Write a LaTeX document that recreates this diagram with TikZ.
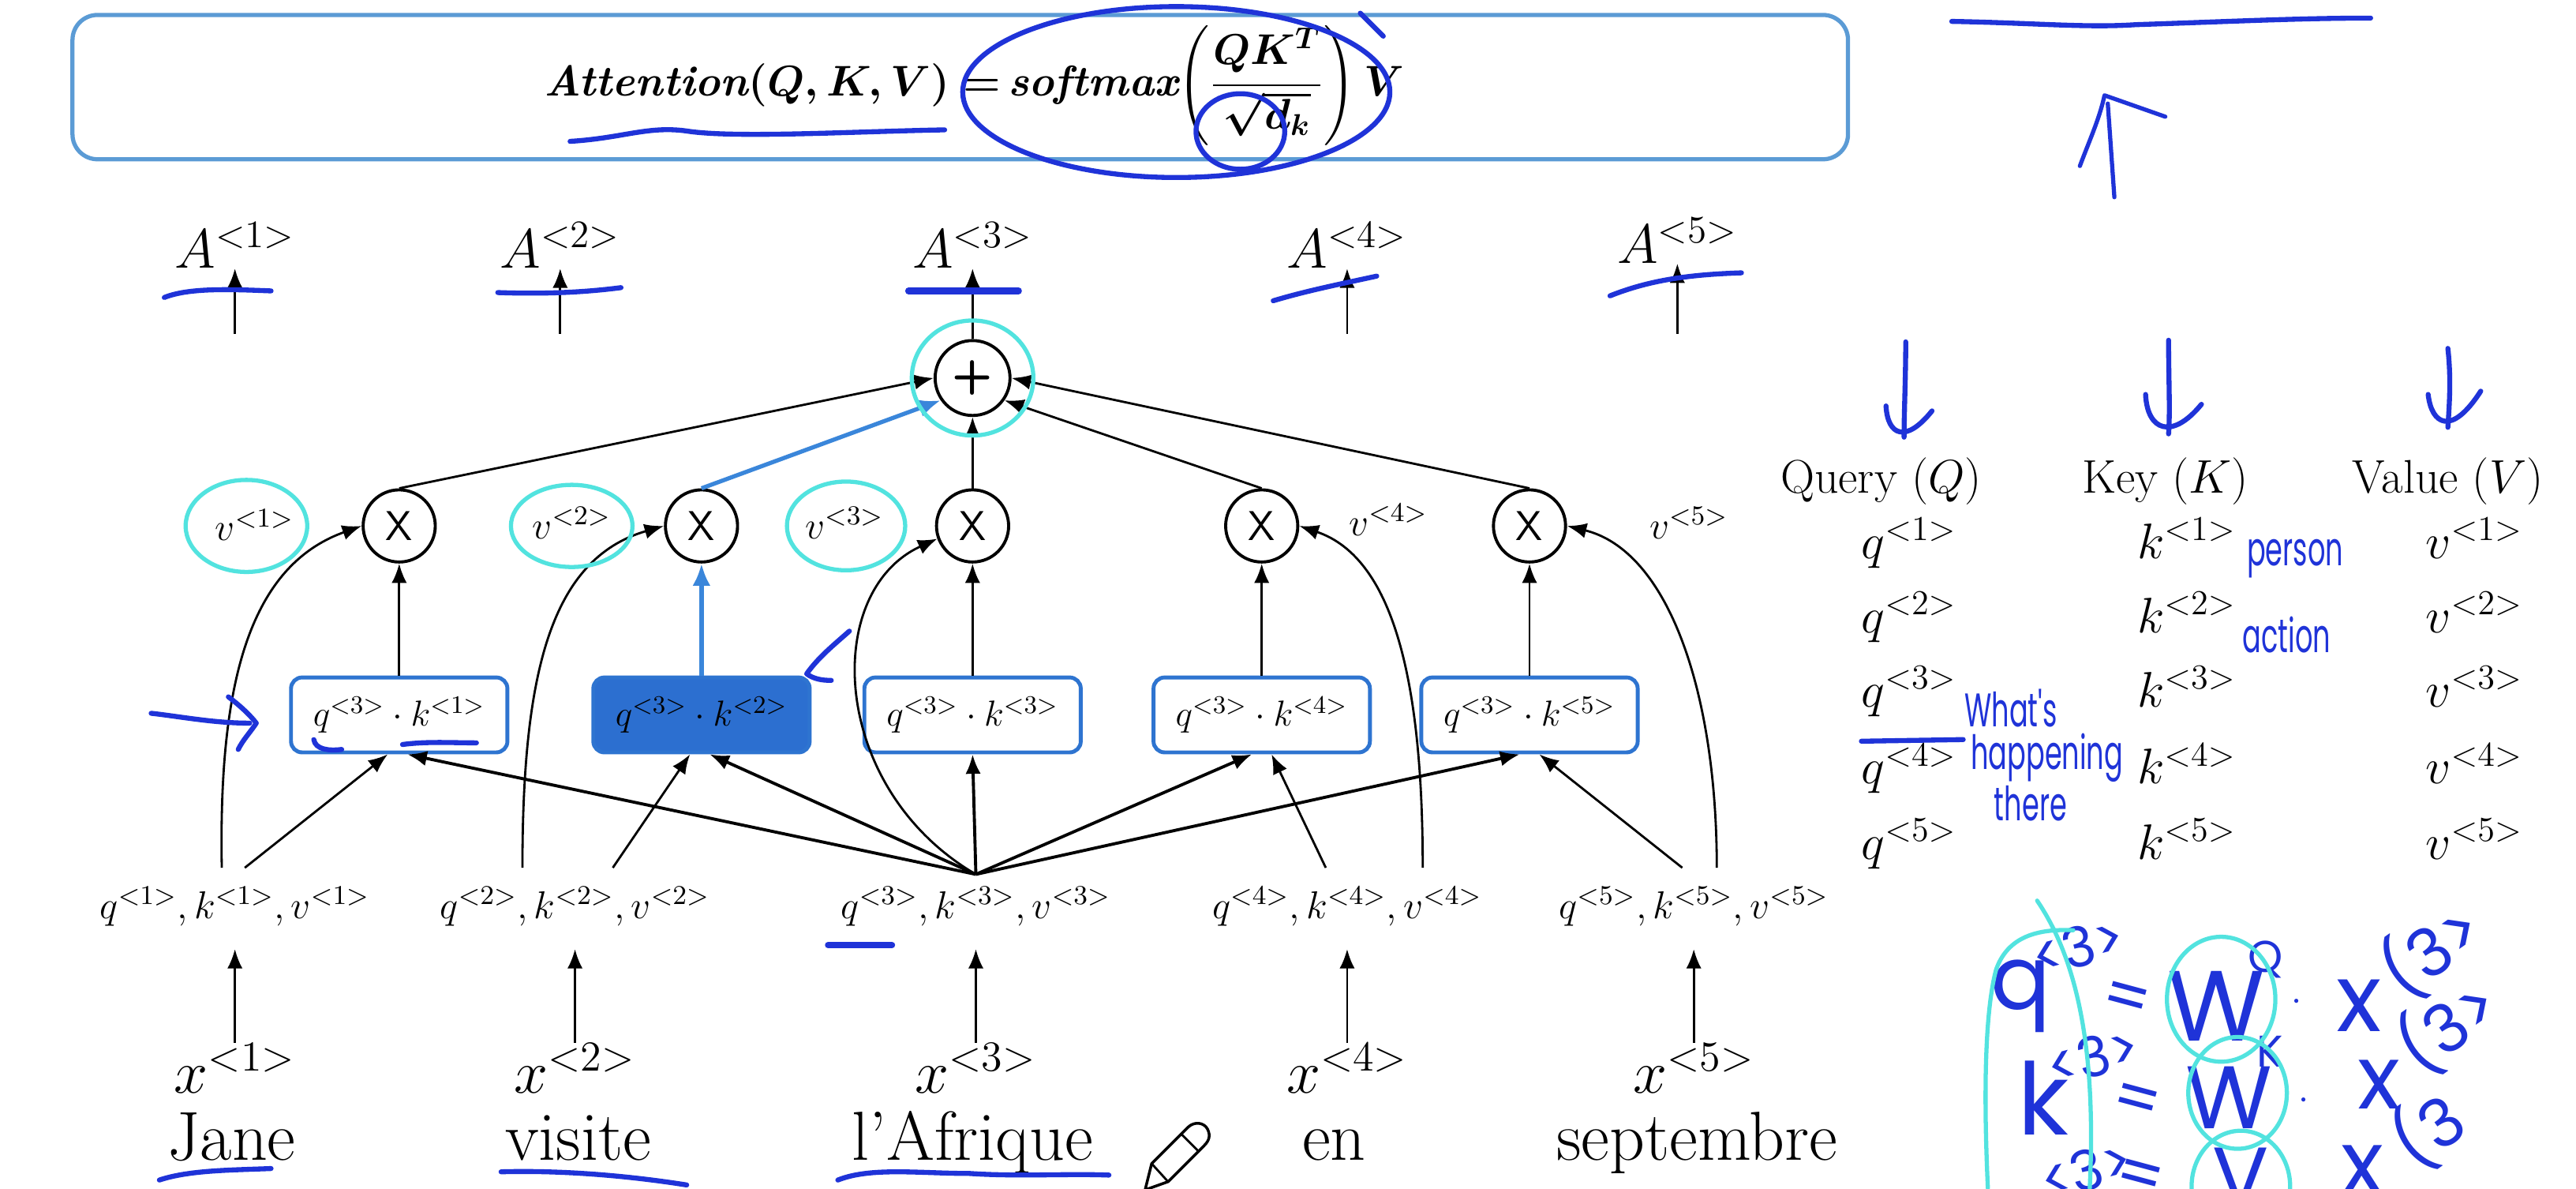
\RequirePackage{fix-cm}
\documentclass[tikz,border=0pt]{standalone}
\usepackage{fontspec}
\usepackage{amsmath}
\usetikzlibrary{arrows.meta,calc}
\newfontfamily\handfont{Poppins}
\definecolor{inkblue}{HTML}{1F33D8}
\definecolor{cyanpen}{HTML}{52E3DF}
\definecolor{boxblue}{HTML}{2E74D0}
\definecolor{fillblue}{HTML}{2C6FD0}
\definecolor{frameblue}{HTML}{5B9BD5}
\definecolor{arrowblue}{HTML}{3A86DA}
\newcommand{\attnformula}{{\bfseries\itshape Attention}$\boldsymbol{(Q,K,V)=}$\,{\bfseries\itshape softmax}$\boldsymbol{\displaystyle\left(\frac{QK^{T}}{\sqrt{d_k}}\right)V}$}
\newcommand{\hsz}[1]{\handfont\fontsize{#1}{#1}\selectfont}
\tikzset{
  ar/.style={-{Latex[length=7pt,width=5.5pt]}, line width=0.8pt},
  hubar/.style={ar, line width=1.1pt},
  bluear/.style={-{Latex[length=8pt,width=6.5pt]}, draw=arrowblue, line width=1.5pt},
  mul/.style={circle, draw, line width=1.1pt, minimum size=26pt, inner sep=0pt, font=\sffamily\fontsize{15}{15}\selectfont},
  plusn/.style={circle, draw, line width=1.1pt, minimum size=27pt, inner sep=0pt, font=\sffamily\bfseries\fontsize{17}{17}\selectfont},
  score/.style={draw=boxblue, line width=1.4pt, rounded corners=4pt, minimum width=78pt, minimum height=27pt, inner sep=0pt, font=\fontsize{13}{15}\selectfont, fill=white},
  scorehi/.style={score, fill=fillblue},
  alab/.style={inner sep=0pt, font=\fontsize{20}{24}\selectfont, anchor=base},
  vlab/.style={inner sep=0pt, font=\fontsize{14}{17}\selectfont, anchor=base},
  qkvlab/.style={inner sep=0pt, font=\fontsize{14}{17}\selectfont, anchor=base},
  xlab/.style={inner sep=0pt, font=\fontsize{22}{26}\selectfont, anchor=base},
  wordlab/.style={inner sep=0pt, font=\fontsize{25}{30}\selectfont, anchor=base},
  thead/.style={inner sep=0pt, font=\fontsize{17}{20}\selectfont, anchor=base},
  tentry/.style={inner sep=0pt, font=\fontsize{18}{21}\selectfont, anchor=base},
  formula/.style={inner sep=0pt, font=\fontsize{15.5}{19}\selectfont},
  inkline/.style={draw=inkblue, line width=1.8pt, line cap=round, line join=round},
  cyanline/.style={draw=cyanpen, line width=1.5pt, line cap=round},
  handtext/.style={inner sep=0pt, text=inkblue, font=\hsz{13}},
  handnote/.style={inner sep=0pt, text=inkblue, font=\hsz{10}, yscale=1.7},
}
\begin{document}
\begin{tikzpicture}[x=0.020816cm, y=-0.020816cm]
\useasboundingbox (0,0) rectangle (1568,723);
\fill[white] (0,0) rectangle (1568,723);

% ---------- formula box ----------
\node[draw=frameblue, line width=1.5pt, rounded corners=9pt, minimum width=640pt, minimum height=52pt, inner sep=0pt] (FB) at (584.5,53) {};
\node[formula] (FF) at (593,52) {\attnformula};

% ---------- nodes ----------
\node[alab] (A1) at (143,163) {$A^{<1>}$};
\node[alab] (A2) at (341,163) {$A^{<2>}$};
\node[alab] (A3) at (592,163) {$A^{<3>}$};
\node[alab] (A4) at (820,163) {$A^{<4>}$};
\node[alab] (A5) at (1021,160) {$A^{<5>}$};
\coordinate (a1) at (143,203);
\coordinate (a2) at (341,203);
\coordinate (a4) at (820,203);
\coordinate (a5) at (1021,203);

\node[plusn] (P) at (592,230) {+};

\node[mul] (X1) at (243,320) {X};
\node[mul] (X2) at (427,320) {X};
\node[mul] (X3) at (592,320) {X};
\node[mul] (X4) at (768,320) {X};
\node[mul] (X5) at (931,320) {X};

\node[vlab] (v1) at (155,329) {$v^{<1>}$};
\node[vlab] (v2) at (348,328) {$v^{<2>}$};
\node[vlab] (v3) at (514,328) {$v^{<3>}$};
\node[vlab] (v4) at (845,326) {$v^{<4>}$};
\node[vlab] (v5) at (1028,328) {$v^{<5>}$};

\node[score] (S1) at (243,435) {$q^{<3>}\cdot k^{<1>}$};
\node[scorehi] (S2) at (427,435) {$q^{<3>}\cdot k^{<2>}$};
\node[score] (S3) at (592,435) {$q^{<3>}\cdot k^{<3>}$};
\node[score] (S4) at (768,435) {$q^{<3>}\cdot k^{<4>}$};
\node[score] (S5) at (931,435) {$q^{<3>}\cdot k^{<5>}$};

\node[qkvlab] (Q1) at (143,559) {$q^{<1>}, k^{<1>}, v^{<1>}$};
\node[qkvlab] (Q2) at (350,559) {$q^{<2>}, k^{<2>}, v^{<2>}$};
\node[qkvlab] (Q3) at (594,559) {$q^{<3>}, k^{<3>}, v^{<3>}$};
\node[qkvlab] (Q4) at (820,559) {$q^{<4>}, k^{<4>}, v^{<4>}$};
\node[qkvlab] (Q5) at (1031,559) {$q^{<5>}, k^{<5>}, v^{<5>}$};

\coordinate (c1) at (135,528);
\coordinate (k1) at (149,528);
\coordinate (c2) at (318,528);
\coordinate (k2) at (373,528);
\coordinate (H) at (594,532);
\coordinate (k4) at (807,528);
\coordinate (c4) at (866,528);
\coordinate (k5) at (1024,528);
\coordinate (c5) at (1045,528);

\node[xlab] (x1) at (143,665) {$x^{<1>}$};
\node[xlab] (x2) at (350,665) {$x^{<2>}$};
\node[xlab] (x3) at (594,665) {$x^{<3>}$};
\node[xlab] (x4) at (820,665) {$x^{<4>}$};
\node[xlab] (x5) at (1031,665) {$x^{<5>}$};

\node[wordlab] (w1) at (141,706) {Jane};
\node[wordlab] (w2) at (352,706) {visite};
\node[wordlab] (w3) at (592,706) {l’Afrique};
\node[wordlab] (w4) at (812,706) {en};
\node[wordlab] (w5) at (1033,706) {septembre};

% ---------- connectors ----------
\draw[ar] (a1) -- (A1.south);
\draw[ar] (a2) -- (A2.south);
\draw[ar] (P.north) -- (A3.south);
\draw[ar] (a4) -- (A4.south);
\draw[ar] (a5) -- (A5.south);

\draw[ar] (X1.north) -- (P.west);
\draw[bluear] (X2.north) -- (P.215);
\draw[ar] (X3.north) -- (P.south);
\draw[ar] (X4.north) -- (P.-35);
\draw[ar] (X5.north) -- (P.east);

\draw[ar] (S1.north) -- (X1.south);
\draw[bluear] (S2.north) -- (X2.south);
\draw[ar] (S3.north) -- (X3.south);
\draw[ar] (S4.north) -- (X4.south);
\draw[ar] (S5.north) -- (X5.south);

\draw[ar] (c1) .. controls (133,420) and (150,345) .. (X1.west);
\draw[ar] (c2) .. controls (318,410) and (335,340) .. (X2.west);
\draw[ar] (H) .. controls (505,480) and (500,360) .. (X3.200);
\draw[ar] (c4) .. controls (866,420) and (850,340) .. (X4.east);
\draw[ar] (c5) .. controls (1045,420) and (1015,335) .. (X5.east);

\draw[ar] (k1) -- ($(S1.south)+(-7,0)$);
\draw[hubar] (H) -- ($(S1.south)+(5,0)$);
\draw[ar] (k2) -- ($(S2.south)+(-7,0)$);
\draw[hubar] (H) -- ($(S2.south)+(5,0)$);
\draw[hubar] (H) -- (S3.south);
\draw[hubar] (H) -- ($(S4.south)+(-6,0)$);
\draw[ar] (k4) -- ($(S4.south)+(6,0)$);
\draw[hubar] (H) -- ($(S5.south)+(-6,0)$);
\draw[ar] (k5) -- ($(S5.south)+(6,0)$);

\foreach \i in {1,...,5}{
  \draw[ar, shorten >=8pt] (x\i.north) -- (Q\i.south);
}

% ---------- right table ----------
\node[thead] (hQ) at (1145,300) {Query ($Q$)};
\node[thead] (hK) at (1318,300) {Key ($K$)};
\node[thead] (hV) at (1490,300) {Value ($V$)};
\foreach \i/\y in {1/340,2/385,3/430,4/477,5/523}{
  \node[tentry] (tq\i) at (1162,\y) {$q^{<\i>}$};
  \node[tentry] (tk\i) at (1331,\y) {$k^{<\i>}$};
  \node[tentry] (tv\i) at (1506,\y) {$v^{<\i>}$};
}

% ---------- handwritten annotations (blue ink) ----------
\draw[inkline] (347,86) .. controls (380,84) and (395,76) .. (420,80) .. controls (450,84) and (520,80) .. (575,79);
\draw[inkline] (716,56) ellipse [x radius=130, y radius=52];
\draw[inkline] (828,8) -- (842,22);
\draw[inkline] (755,80) ellipse [x radius=27, y radius=23];
\draw[inkline] (1188,13) .. controls (1240,14) and (1270,17) .. (1300,15) .. controls (1360,13) and (1400,11) .. (1443,11);
\draw[inkline, line width=1.5pt] (1287,120) -- (1283,63);
\draw[inkline, line width=1.5pt] (1266,101) .. controls (1272,85) and (1278,72) .. (1281,58) -- (1318,71);
\draw[inkline] (100,181) .. controls (115,175) and (140,176) .. (165,177);
\draw[inkline] (303,178) .. controls (330,179) and (355,178) .. (378,175);
\draw[inkline, line width=2.4pt] (553,177) -- (620,177);
\draw[inkline] (775,183) .. controls (795,177) and (815,173) .. (838,168);
\draw[inkline] (980,180) .. controls (1005,170) and (1030,167) .. (1060,166);
\draw[inkline] (97,718) .. controls (115,712) and (140,712) .. (165,711);
\draw[inkline] (305,713) .. controls (340,712) and (380,715) .. (418,721);
\draw[inkline] (510,718) .. controls (530,710) and (560,714) .. (590,714) .. controls (620,716) and (650,714) .. (675,715);
\draw[inkline, line width=2.2pt] (504,575) -- (543,575);
\draw[inkline] (92,434) .. controls (110,436) and (130,440) .. (152,440);
\draw[inkline] (139,424) .. controls (147,430) and (153,436) .. (156,440) .. controls (152,446) and (148,450) .. (145,456);
\draw[inkline] (191,450) .. controls (192,456) and (200,457) .. (208,456);
\draw[inkline] (245,453) .. controls (260,451) and (275,452) .. (290,452);
\draw[inkline] (517,384) .. controls (508,392) and (498,400) .. (491,410) .. controls (495,413) and (500,414) .. (506,414);
\draw[inkline] (1160,208) .. controls (1160,230) and (1159,250) .. (1159,266);
\draw[inkline] (1148,247) .. controls (1149,265) and (1160,270) .. (1176,250);
\draw[inkline] (1320,207) .. controls (1320,230) and (1321,250) .. (1320,264);
\draw[inkline] (1306,240) .. controls (1307,262) and (1322,268) .. (1340,246);
\draw[inkline] (1490,212) .. controls (1492,230) and (1491,245) .. (1490,260);
\draw[inkline] (1478,240) .. controls (1480,258) and (1492,266) .. (1510,238);
\draw[inkline] (1133,451) -- (1195,450);
\node[handnote] (hw1) at (1397,340) {person};
\node[handnote] (hw2) at (1392,386) {action};
\node[handnote] (hw3) at (1224,431) {What's};
\node[handnote] (hw4) at (1246,461) {happening};
\node[handnote] (hw5) at (1236,489) {there};

% bottom right equations
\node[handtext, font=\hsz{32}] (eq1) at (1230,606) {q};
\node[handtext, font=\hsz{20}, rotate=15] (eq1s) at (1265,576) {<3>};
\node[handtext, font=\hsz{24}, rotate=-15] (eq1e) at (1294,610) {=};
\node[handtext, font=\hsz{36}] (eq1W) at (1349,612) {W};
\node[handtext, font=\hsz{16}] (eq1Q) at (1379,584) {Q};
\node[handtext, font=\hsz{12}] (eq1d) at (1398,612) {·};
\node[handtext, font=\hsz{34}] (eq1x) at (1436,612) {x};
\node[handtext, font=\hsz{24}, rotate=35] (eq1xs) at (1480,578) {(3>};
\node[handtext, font=\hsz{36}] (eq2) at (1244,668) {k};
\node[handtext, font=\hsz{20}, rotate=15] (eq2s) at (1274,643) {<3>};
\node[handtext, font=\hsz{24}, rotate=-15] (eq2e) at (1300,672) {=};
\node[handtext, font=\hsz{32}] (eq2W) at (1357,668) {W};
\node[handtext, font=\hsz{16}] (eq2K) at (1382,640) {K};
\node[handtext, font=\hsz{12}] (eq2d) at (1402,672) {·};
\node[handtext, font=\hsz{32}] (eq2x) at (1448,660) {x};
\node[handtext, font=\hsz{24}, rotate=35] (eq2xs) at (1490,624) {(3>};
\node[handtext, font=\hsz{20}, rotate=15] (eq3s) at (1270,712) {<3>};
\node[handtext, font=\hsz{24}, rotate=-15] (eq3e) at (1302,718) {=};
\node[handtext, font=\hsz{30}] (eq3W) at (1364,716) {V};
\node[handtext, font=\hsz{32}] (eq3x) at (1438,712) {x};
\node[handtext, font=\hsz{24}, rotate=35] (eq3xs) at (1478,688) {(3};

% ---------- cyan annotations ----------
\draw[cyanline] (150,320) ellipse [x radius=37, y radius=28];
\draw[cyanline] (348,320) ellipse [x radius=37, y radius=25];
\draw[cyanline] (515,320) ellipse [x radius=36, y radius=27];
\draw[cyanline] (592,230) ellipse [x radius=37, y radius=35];
\draw[cyanline] (1210,723) .. controls (1208,680) and (1207,620) .. (1215,590) .. controls (1222,570) and (1240,565) .. (1262,566);
\draw[cyanline] (1240,548) .. controls (1265,585) and (1276,640) .. (1272,723);
\draw[cyanline] (1352,608) ellipse [x radius=33, y radius=38];
\draw[cyanline] (1362,665) ellipse [x radius=30, y radius=34];
\draw[cyanline] (1364,722) ellipse [x radius=30, y radius=34];

% ---------- pencil cursor ----------
\draw[line width=1pt, fill=white, line join=round] (697,724) -- (701,708) -- (723,686) .. controls (727,682) and (733,683) .. (735,687) .. controls (737,691) and (736,694) .. (733,697) -- (711,719) -- cycle;
\draw[line width=0.8pt] (701,708) -- (711,719);
\draw[line width=0.8pt] (719,690) -- (730,701);
\end{tikzpicture}
\end{document}
